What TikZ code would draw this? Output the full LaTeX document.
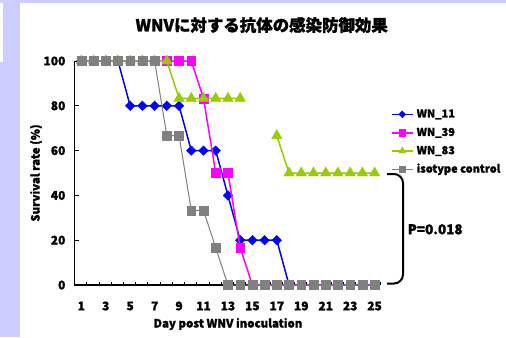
\documentclass[tikz,border=0pt]{standalone}
\usepackage{fontspec}
\setmainfont{Noto Sans CJK JP}[BoldFeatures={FakeBold=1.3}]
\usetikzlibrary{plotmarks}
\definecolor{lav}{HTML}{CCCCFF}
\definecolor{wnblue}{HTML}{0000FF}
\definecolor{wnmag}{HTML}{FF00FF}
\definecolor{wngreen}{HTML}{99CC00}
\definecolor{wngrey}{HTML}{808080}
\tikzset{
  axisline/.style={line width=1.5bp, black},
  ticklab/.style={font=\bfseries\fontsize{12}{13}\selectfont, inner sep=0pt},
  axlab/.style={font=\bfseries\fontsize{11.5}{13}\selectfont, inner sep=0pt},
  legtext/.style={font=\bfseries\fontsize{11}{13}\selectfont, anchor=west, inner sep=0pt},
  sblue/.style={wnblue, line width=1.5bp, mark=square*, mark size=3.4bp,
    mark options={solid, rotate=45, fill=wnblue, draw=wnblue, line width=0.4bp}},
  smag/.style={wnmag, line width=1.5bp, mark=square*, mark size=4.4bp,
    mark options={solid, fill=wnmag, draw=wnmag, line width=0.4bp}},
  sgreen/.style={wngreen, line width=1.5bp, mark=triangle*, mark size=6bp,
    mark options={solid, fill=wngreen, draw=wngreen, line width=0.4bp}},
  sgrey/.style={wngrey, line width=1bp, mark=square*, mark size=4.4bp,
    mark options={solid, fill=wngrey, draw=wngrey, line width=0.4bp}},
}
\begin{document}
\begin{tikzpicture}[x=1bp,y=-1bp]
\useasboundingbox (0,0) rectangle (506,337);
\fill[lav] (0,0) rectangle (506,337);
\fill[white] (20,3.3) rectangle (506,337);
\fill[white] (0,3.3) rectangle (3.3,62);

\node[font=\bfseries\fontsize{16.5}{18}\selectfont, inner sep=0pt] (title) at (261.7,25) {WNVに対する抗体の感染防御効果};

\begin{scope}[shift={(69.08bp,-285bp)}, x=12.22bp, y=2.24bp]
  % axes
  \draw[axisline] (0.45,100) -- (0.45,0) -- (25.45,0);
  \foreach \v in {20,40,...,100} \draw[line width=1bp] (0.45,\v) -- ++(4bp,0);
  \foreach \k in {1,...,25} \draw[line width=1bp] (\k+0.45,0) -- ++(0,3bp);
  \foreach \v in {0,20,...,100} \node[ticklab, anchor=east] (yl\v) at ([xshift=-9bp]0.45,\v) {\v};
  \foreach \d in {1,3,...,25} \node[ticklab] (xl\d) at ([yshift=-21bp]\d,0) {\d};

  % series
  \draw[sblue] plot coordinates {(1,100)(2,100)(3,100)(4,100)(5,80)(6,80)(7,80)(8,80)(9,80)(10,60)(11,60)(12,60)(13,40)(14,20)(15,20)(16,20)(17,20)(18,0)(19,0)(20,0)(21,0)(22,0)(23,0)(24,0)(25,0)};
  \draw[smag] plot coordinates {(1,100)(2,100)(3,100)(4,100)(5,100)(6,100)(7,100)(8,100)(9,100)(10,100)(11,83.33)(12,50)(13,50)(14,16.67)(15,0)(16,0)(17,0)(18,0)(19,0)(20,0)(21,0)(22,0)(23,0)(24,0)(25,0)};
  \draw[sgreen] plot coordinates {(1,100)(2,100)(3,100)(4,100)(5,100)(6,100)(7,100)(8,100)(9,83.33)(10,83.33)(11,83.33)(12,83.33)(13,83.33)(14,83.33)};
  \draw[sgreen] plot coordinates {(17,66.67)(18,50)(19,50)(20,50)(21,50)(22,50)(23,50)(24,50)(25,50)};
  \draw[sgrey] plot coordinates {(1,100)(2,100)(3,100)(4,100)(5,100)(6,100)(7,100)(8,66.67)(9,66.67)(10,33.33)(11,33.33)(12,16.67)(13,0)(14,0)(15,0)(16,0)(17,0)(18,0)(19,0)(20,0)(21,0)(22,0)(23,0)(24,0)(25,0)};
\end{scope}

\node[axlab, rotate=90] (ylabel) at (36,173) {Survival rate (\%)};
\node[axlab] (xlabel) at (228,324) {Day post WNV inoculation};

% legend
\draw[sblue, mark size=2.4bp, mark indices={2}] plot coordinates {(391.7,114.3)(402.3,114.3)(413,114.3)};
\node[legtext] (l1) at (416.5,114.3) {WN\_11};
\draw[smag, mark size=3.2bp, mark indices={2}] plot coordinates {(391.7,132.8)(402.3,132.8)(413,132.8)};
\node[legtext] (l2) at (416.5,132.8) {WN\_39};
\draw[sgreen, mark size=4bp, mark indices={2}] plot coordinates {(391.7,151)(402.3,151)(413,151)};
\node[legtext] (l3) at (416.5,151) {WN\_83};
\draw[sgrey, mark size=3.2bp, mark indices={2}] plot coordinates {(391.7,169.3)(402.3,169.3)(413,169.3)};
\node[legtext] (l4) at (416.5,169.3) {isotype control};

% bracket
\coordinate (bt) at (387,174);
\coordinate (bb) at (387,283.5);
\draw[line width=2bp, rounded corners=9bp] (bt) -- (403,174) -- (403,283.5) -- (bb);
\node[font=\bfseries\fontsize{13.5}{15}\selectfont, anchor=west, inner sep=0pt] (pval) at (407.5,229.3) {P=0.018};
\end{tikzpicture}
\end{document}
